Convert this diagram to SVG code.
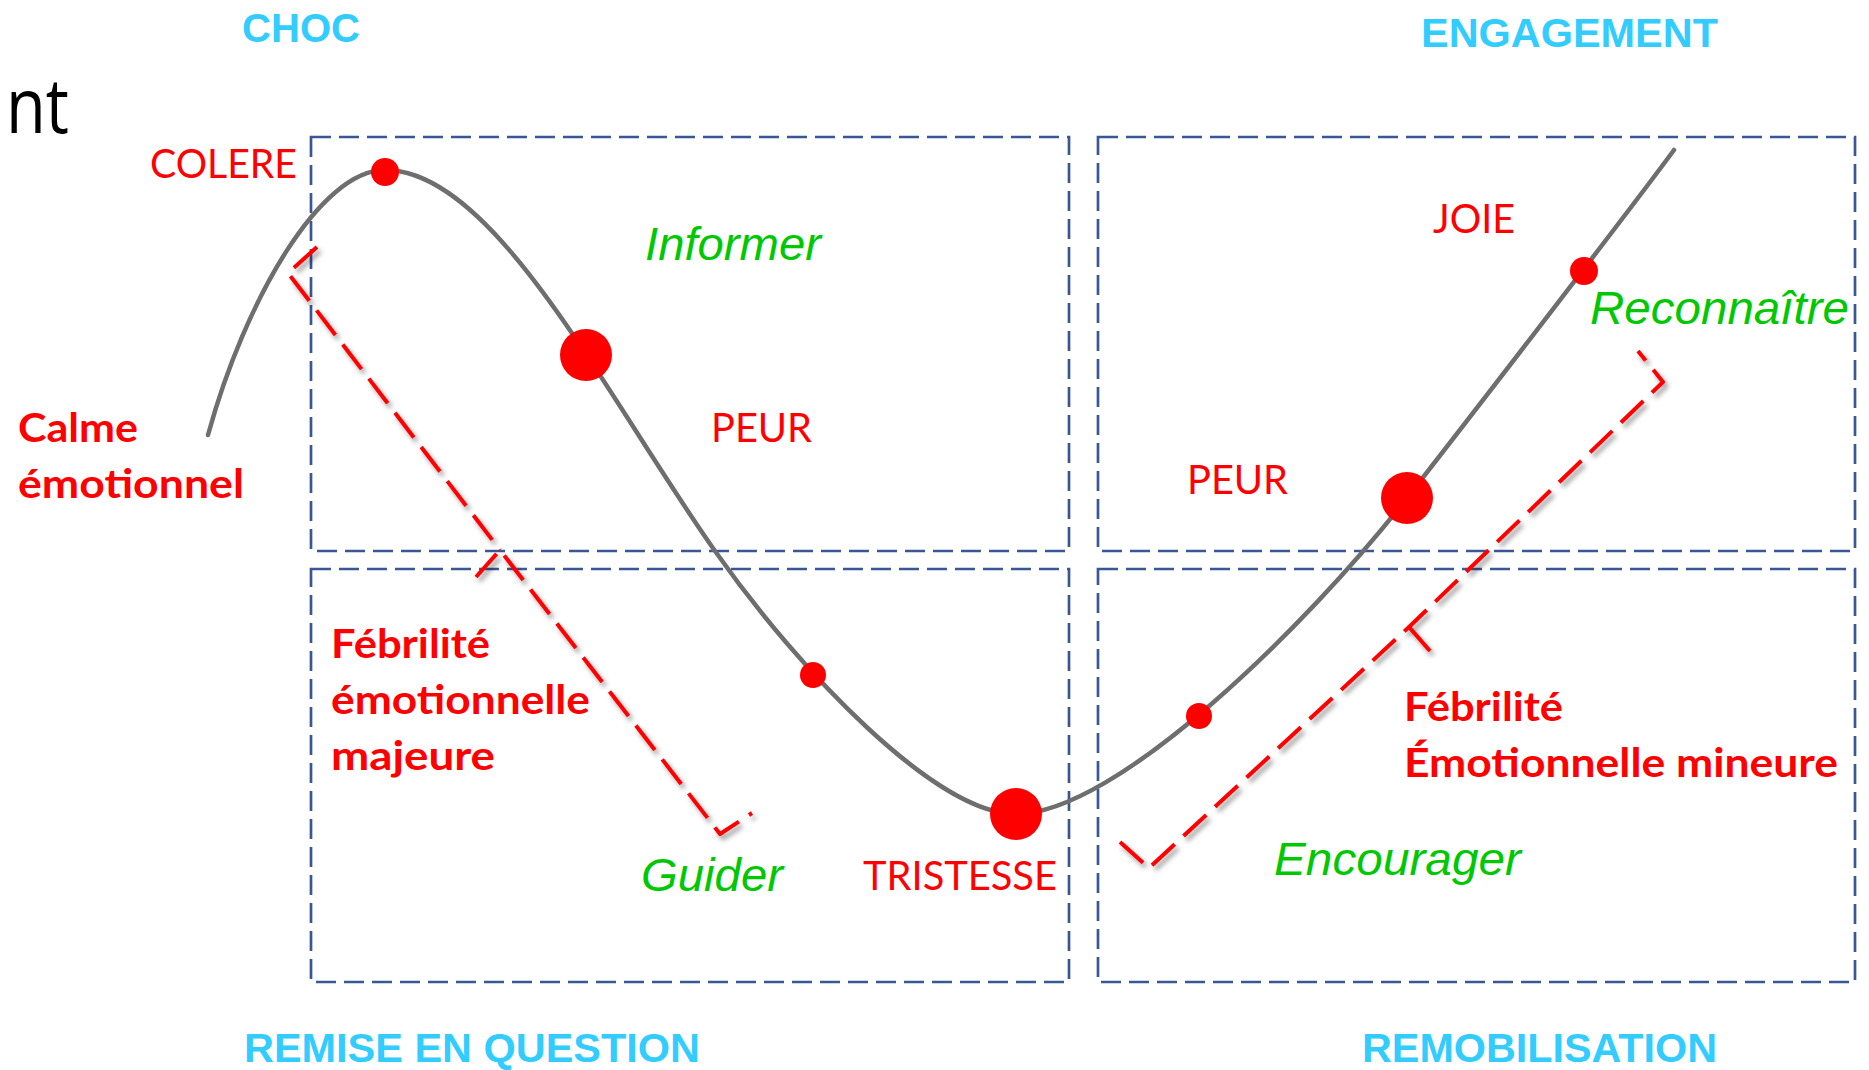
<svg xmlns="http://www.w3.org/2000/svg" width="1869" height="1070" viewBox="0 0 1869 1070">
<defs>
<style>
.box{fill:none;stroke:#3A5795;stroke-width:2.7;stroke-dasharray:20 8}
.phase{font-family:"Liberation Sans",Arial,sans-serif;font-weight:bold;font-size:41px;fill:#33CCFF}
.emo{font-family:Lato,"Open Sans",sans-serif;font-size:40px;fill:#FF0000}
.emob{font-family:Lato,"Open Sans",sans-serif;font-weight:bold;font-size:40px;fill:#FF0000}
.act{font-family:"Liberation Sans",Arial,sans-serif;font-style:italic;font-size:46px;fill:#00C800}
.curve{fill:none;stroke:#6E6E6E;stroke-width:4.5;stroke-linecap:round}
.dot{fill:#FF0000}
.brace{fill:none;stroke:#FF0000;stroke-width:4;stroke-dasharray:31 12;stroke-linejoin:round}
</style>
<filter id="shadow" x="-10%" y="-10%" width="130%" height="130%">
<feDropShadow dx="3" dy="4" stdDeviation="2.5" flood-color="#000" flood-opacity="0.4"/>
</filter>
</defs>
<rect width="1869" height="1070" fill="#FFFFFF"/>

<text x="6" y="133" font-family="'Open Sans',Lato,sans-serif" font-size="76" fill="#000" textLength="63" lengthAdjust="spacingAndGlyphs">nt</text>

<g id="quadrants">
<rect id="q-choc" class="box" x="311" y="137" width="758" height="414"/>
<rect id="q-remise" class="box" x="311" y="569" width="758" height="413"/>
<rect id="q-engagement" class="box" x="1098" y="137" width="757" height="414"/>
<rect id="q-remobilisation" class="box" x="1098" y="569" width="757" height="413"/>
</g>

<g id="phases">
<text id="p-choc" class="phase" x="242" y="42" textLength="118" lengthAdjust="spacingAndGlyphs">CHOC</text>
<text id="p-engagement" class="phase" x="1421" y="47" textLength="297" lengthAdjust="spacingAndGlyphs">ENGAGEMENT</text>
<text id="p-remise" class="phase" x="244" y="1062" textLength="456" lengthAdjust="spacingAndGlyphs">REMISE EN QUESTION</text>
<text id="p-remobilisation" class="phase" x="1362" y="1062" textLength="355" lengthAdjust="spacingAndGlyphs">REMOBILISATION</text>
</g>

<g id="braces" filter="url(#shadow)">
<path id="brace-majeure" class="brace" d="M317,247 L288,273 L500,550 M476,577 L500,550 L720,834 L752,813"/>
<path id="brace-mineure" class="brace" d="M1120,842 L1149,868 L1409,627 L1663,382 L1638,351 M1430,651 L1409,627"/>
</g>

<g id="connectors">
<path id="curve" class="curve" d="M208,435 C245,300 320,170 385,170 C495,170 605,395 715,551 C800,671.7 936,814 1016,814 C1116,814 1307,626 1407,498 C1496,384 1644,191 1674,150"/>
</g>

<g id="points">
<circle id="pt-colere" class="dot" cx="385" cy="172" r="14"/>
<circle id="pt-peur1" class="dot" cx="586" cy="355" r="26"/>
<circle id="pt-mid1" class="dot" cx="813" cy="675" r="13"/>
<circle id="pt-tristesse" class="dot" cx="1016" cy="814" r="26"/>
<circle id="pt-mid2" class="dot" cx="1199" cy="716" r="13"/>
<circle id="pt-peur2" class="dot" cx="1407" cy="498" r="26"/>
<circle id="pt-joie" class="dot" cx="1584" cy="271" r="14"/>
</g>

<g id="emotions">
<text id="e-colere" class="emo" x="150" y="178" textLength="147" lengthAdjust="spacingAndGlyphs">COLERE</text>
<text id="e-peur1" class="emo" x="711" y="442" textLength="101" lengthAdjust="spacingAndGlyphs">PEUR</text>
<text id="e-tristesse" class="emo" x="863" y="890" textLength="194" lengthAdjust="spacingAndGlyphs">TRISTESSE</text>
<text id="e-joie" class="emo" x="1433" y="233" textLength="82" lengthAdjust="spacingAndGlyphs">JOIE</text>
<text id="e-peur2" class="emo" x="1187" y="494" textLength="101" lengthAdjust="spacingAndGlyphs">PEUR</text>
</g>

<g id="states">
<g id="s-calme">
<text class="emob" x="18" y="442" textLength="120" lengthAdjust="spacingAndGlyphs">Calme</text>
<text class="emob" x="18" y="498" textLength="226" lengthAdjust="spacingAndGlyphs">émotionnel</text>
</g>
<g id="s-majeure">
<text class="emob" x="331" y="658" textLength="159" lengthAdjust="spacingAndGlyphs">Fébrilité</text>
<text class="emob" x="331" y="714" textLength="259" lengthAdjust="spacingAndGlyphs">émotionnelle</text>
<text class="emob" x="331" y="770" textLength="164" lengthAdjust="spacingAndGlyphs">majeure</text>
</g>
<g id="s-mineure">
<text class="emob" x="1404" y="721" textLength="159" lengthAdjust="spacingAndGlyphs">Fébrilité</text>
<text class="emob" x="1404" y="777" textLength="434" lengthAdjust="spacingAndGlyphs">Émotionnelle mineure</text>
</g>
</g>

<g id="actions">
<text id="a-informer" class="act" x="645" y="260" textLength="176" lengthAdjust="spacingAndGlyphs">Informer</text>
<text id="a-reconnaitre" class="act" x="1590" y="324" textLength="259" lengthAdjust="spacingAndGlyphs">Reconnaître</text>
<text id="a-guider" class="act" x="641" y="891" textLength="142" lengthAdjust="spacingAndGlyphs">Guider</text>
<text id="a-encourager" class="act" x="1274" y="875" textLength="247" lengthAdjust="spacingAndGlyphs">Encourager</text>
</g>
</svg>
